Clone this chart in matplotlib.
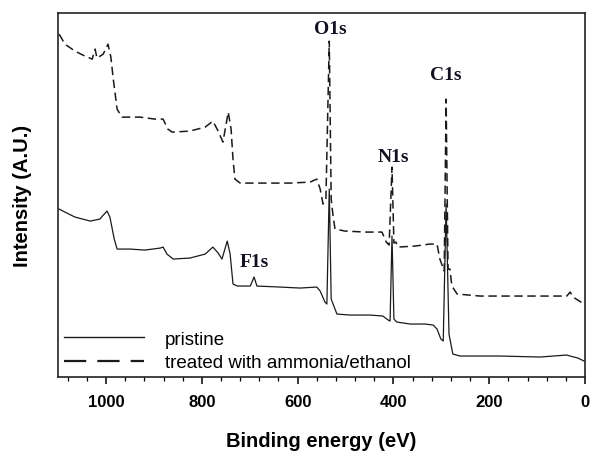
import matplotlib
matplotlib.use("Agg")
from matplotlib import pyplot as plt
from matplotlib.lines import Line2D
from matplotlib.ticker import MultipleLocator

plt.rcParams["font.family"] = ["Liberation Sans", "DejaVu Sans"]

# pristine spectrum (binding energy in eV, intensity in arbitrary units)
pristine_ev = [1098, 1086, 1065, 1033, 1013, 1004, 998, 992, 983, 977, 950, 919, 887, 881,
               873, 860, 825, 793, 777, 766, 758, 747, 741, 735, 726, 699, 691, 685, 637,
               595, 560, 553, 543, 539, 534, 530, 526, 518, 491, 449, 422, 411, 407, 403,
               399, 393, 365, 334, 317, 309, 301, 296, 290, 284, 280, 276, 261, 177, 94,
               38, 31, 15, 2]
pristine_int = [168, 165, 160, 156, 158, 163, 166, 160, 138, 128, 128, 127, 129, 130,
                123, 118, 119, 123, 130, 124, 118, 136, 123, 93, 91, 91, 100, 91, 90,
                89, 90, 86, 75, 73, 188, 78, 73, 63, 62, 62, 61, 57, 56, 141,
                58, 55, 53, 53, 52, 48, 38, 36, 173, 43, 33, 23, 21, 21, 20,
                22, 21, 19, 16]

# treated with ammonia/ethanol
treated_ev = [1098, 1086, 1065, 1044, 1029, 1023, 1019, 1006, 996, 990, 985, 977, 967, 929,
              898, 881, 871, 862, 825, 793, 777, 766, 756, 745, 739, 735, 731, 720, 678,
              616, 574, 560, 553, 547, 541, 534, 530, 526, 522, 501, 459, 424, 415, 409,
              403, 399, 395, 390, 355, 324, 309, 303, 294, 290, 286, 282, 278, 267, 219,
              136, 73, 38, 31, 25, 2]
treated_int = [343, 333, 326, 321, 318, 328, 319, 323, 333, 320, 298, 268, 260, 260,
               258, 258, 248, 245, 246, 250, 256, 246, 235, 265, 248, 218, 198, 194, 194,
               194, 195, 198, 188, 173, 178, 336, 178, 161, 148, 146, 145, 145, 135, 132,
               210, 134, 135, 130, 131, 133, 133, 118, 106, 278, 108, 108, 91, 83, 81,
               81, 81, 81, 85, 80, 73]

peak_names = ["O1s", "N1s", "C1s", "F1s"]
peak_ev = [532, 401, 290, 691]
peak_label_y = [340, 212, 294, 107]

fig, ax = plt.subplots(figsize=(6, 4.56), dpi=100)
fig.subplots_adjust(left=0.097, right=0.975, bottom=0.171, top=0.969)

ax.plot(pristine_ev, pristine_int, color="#1a1a1a", lw=0.9)
ax.plot(treated_ev, treated_int, color="#1a1a1a", lw=1.1, dashes=(5.5, 3))

for name, ev, yy in zip(peak_names, peak_ev, peak_label_y):
    ax.text(ev, yy, name, family=["Liberation Serif", "DejaVu Serif"], fontweight="bold",
            fontsize=14, color="#111122", ha="center", va="bottom")

ax.set_xlim(1100, 0)
ax.set_ylim(0, 364)
ax.xaxis.set_major_locator(MultipleLocator(200))
ax.xaxis.set_minor_locator(MultipleLocator(40))
ax.tick_params(axis="x", which="major", direction="out", length=5, width=1.1, pad=7)
ax.tick_params(axis="x", which="minor", direction="out", length=3, width=0.9)
ax.set_yticks([])
for lab in ax.get_xticklabels():
    lab.set_fontweight("bold")
    lab.set_fontsize(12)
for sp in ax.spines.values():
    sp.set_linewidth(1.2)
    sp.set_color("#222222")

ax.set_xlabel("Binding energy (eV)", fontweight="bold", fontsize=14.5, labelpad=16)
ax.set_ylabel("Intensity (A.U.)", fontweight="bold", fontsize=14.5, labelpad=19)

handles = [Line2D([], [], color="#1a1a1a", lw=1.0),
           Line2D([], [], color="#1a1a1a", lw=1.6, dashes=(10, 5))]
ax.legend(handles, ["pristine", "treated with ammonia/ethanol"], loc="lower left",
          frameon=False, fontsize=13.5, handlelength=4.3, handletextpad=1.1,
          labelspacing=0.35, borderaxespad=0.1, borderpad=0.2)

fig.savefig("out.png", dpi=100)
